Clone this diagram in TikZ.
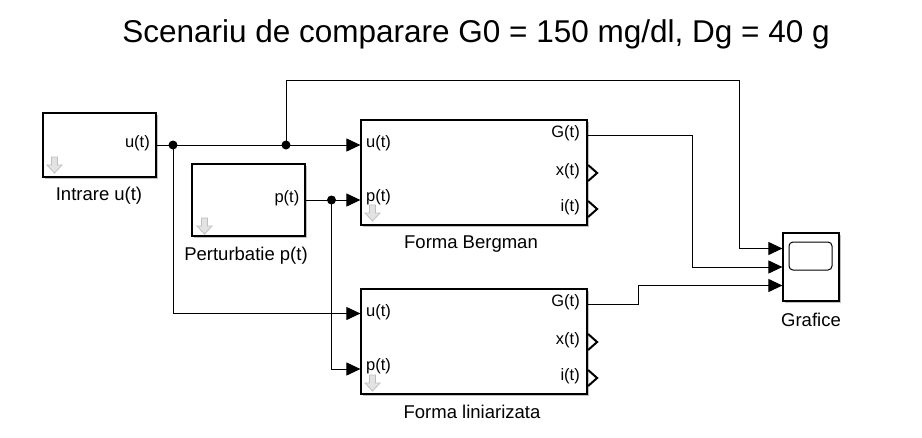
\documentclass[tikz,border=0pt]{standalone}
\usepackage{fontspec}
\setmainfont{Liberation Sans}
\usetikzlibrary{arrows.meta,shadows}
\begin{document}
\begin{tikzpicture}[x=1pt,y=-1pt,
  blk/.style={draw,line width=1.2pt,fill=white,inner sep=0pt,
     drop shadow={shadow xshift=1.6pt,shadow yshift=-1.6pt,fill=black!30,opacity=0.8}},
  wire/.style={line width=1pt},
  sig/.style={wire,-{Triangle[length=14pt,width=13pt]}},
  port/.style={font=\fontsize{16.5}{18}\selectfont,inner sep=0pt},
  lbl/.style={font=\fontsize{18.5}{20}\selectfont,inner sep=0pt,anchor=base},
  jdot/.style={circle,fill=black,inner sep=0pt,minimum size=9pt},
  chev/.style={line width=2pt,line join=miter},
  garrow/.pic={\draw[gray!50,fill=gray!22,line width=0.8pt,line join=miter]
      (4.5,0) -- (10.5,0) -- (10.5,8) -- (15,8) -- (7.5,16) -- (0,8) -- (4.5,8) -- cycle;}
]
\useasboundingbox (0,0) rectangle (922,437);

% title
\node[font=\fontsize{31.5}{34}\selectfont,anchor=base,inner sep=0pt] (title) at (476,42)
  {Scenariu de comparare G0 = 150 mg/dl, Dg = 40 g};

% blocks
\node[blk,minimum width=113pt,minimum height=64pt] (in) at (99.5,145) {};
\node[blk,minimum width=113pt,minimum height=72pt] (pert) at (248.5,200) {};
\node[blk,minimum width=226pt,minimum height=105pt] (berg) at (474,172.5) {};
\node[blk,minimum width=226pt,minimum height=105pt] (lin) at (474,341.5) {};
\node[blk,minimum width=56pt,minimum height=68pt] (sc) at (811,267) {};
\node[draw,line width=1pt,rounded corners=4pt,minimum width=43pt,minimum height=28pt,inner sep=0pt]
  (screen) at (810.5,256) {};

% icons
\pic at (47,157) {garrow};
\pic at (197,218) {garrow};
\pic at (365,205) {garrow};
\pic at (365,375) {garrow};

% block labels
\node[lbl] (inlbl) at (99,200) {Intrare u(t)};
\node[lbl] (pertlbl) at (246,260) {Perturbatie p(t)};
\node[lbl] (berglbl) at (471,248) {Forma Bergman};
\node[lbl] (linlbl) at (472,418) {Forma liniarizata};
\node[lbl] (sclbl) at (811,326) {Grafice};

% ports
\coordinate (in-o) at (in.east);
\coordinate (pert-o) at (pert.east);
\path (berg.west) ++(0,-27.5) coordinate (b-u);
\path (berg.west) ++(0,27.5) coordinate (b-p);
\path (lin.west) ++(0,-28) coordinate (l-u);
\path (lin.west) ++(0,27.5) coordinate (l-p);
\path (berg.east) ++(0,-37.5) coordinate (b-G);
\path (berg.east) ++(0,0.5) coordinate (b-x);
\path (berg.east) ++(0,36.5) coordinate (b-i);
\path (lin.east) ++(0,-37.5) coordinate (l-G);
\path (lin.east) ++(0,0.5) coordinate (l-x);
\path (lin.east) ++(0,36.5) coordinate (l-i);
\path (sc.west) ++(0,-18.5) coordinate (sc-1);
\path (sc.west) ++(0,0) coordinate (sc-2);
\path (sc.west) ++(0,18.5) coordinate (sc-3);

% port labels
\node[port,anchor=mid east] (inpl) at (150,145) {u(t)};
\node[port,anchor=mid east] (pertpl) at (299.5,200) {p(t)};
\node[port,anchor=mid west] (bul) at (366,145) {u(t)};
\node[port,anchor=mid west] (bpl) at (366,199) {p(t)};
\node[port,anchor=mid east] (bGl) at (580,135) {G(t)};
\node[port,anchor=mid east] (bxl) at (580,173) {x(t)};
\node[port,anchor=mid east] (bil) at (580,209) {i(t)};
\node[port,anchor=mid west] (lul) at (366,313.5) {u(t)};
\node[port,anchor=mid west] (lpl) at (366,368) {p(t)};
\node[port,anchor=mid east] (lGl) at (580,304) {G(t)};
\node[port,anchor=mid east] (lxl) at (580,342) {x(t)};
\node[port,anchor=mid east] (lil) at (580,378) {i(t)};

% output chevrons
\foreach \p in {b-x,b-i,l-x,l-i}
  \draw[chev] (\p) ++(0.5,-8) -- ++(9,8) -- ++(-9,8);

% junctions and routing points
\coordinate (j1) at (173,145);
\coordinate (j2) at (286,145);
\coordinate (j3) at (331.5,200);
\coordinate (t2) at (739,80);
\coordinate (k1) at (692,0);
\coordinate (k2) at (638,0);

% wires
\draw[wire] (in-o) -- (j1);
\draw[wire] (j1) -- (j2);
\draw[sig] (j2) -- (b-u);
\draw[sig] (j2) |- (t2) |- (sc-1);
\draw[sig] (j1) |- (l-u);
\draw[wire] (pert-o) -- (j3);
\draw[sig] (j3) -- (b-p);
\draw[sig] (j3) |- (l-p);
\draw[sig] (b-G) -| (k1 |- sc-2) -- (sc-2);
\draw[sig] (l-G) -| (k2 |- sc-3) -- (sc-3);

\node[jdot] (d1) at (j1) {};
\node[jdot] (d2) at (j2) {};
\node[jdot] (d3) at (j3) {};
\end{tikzpicture}
\end{document}
